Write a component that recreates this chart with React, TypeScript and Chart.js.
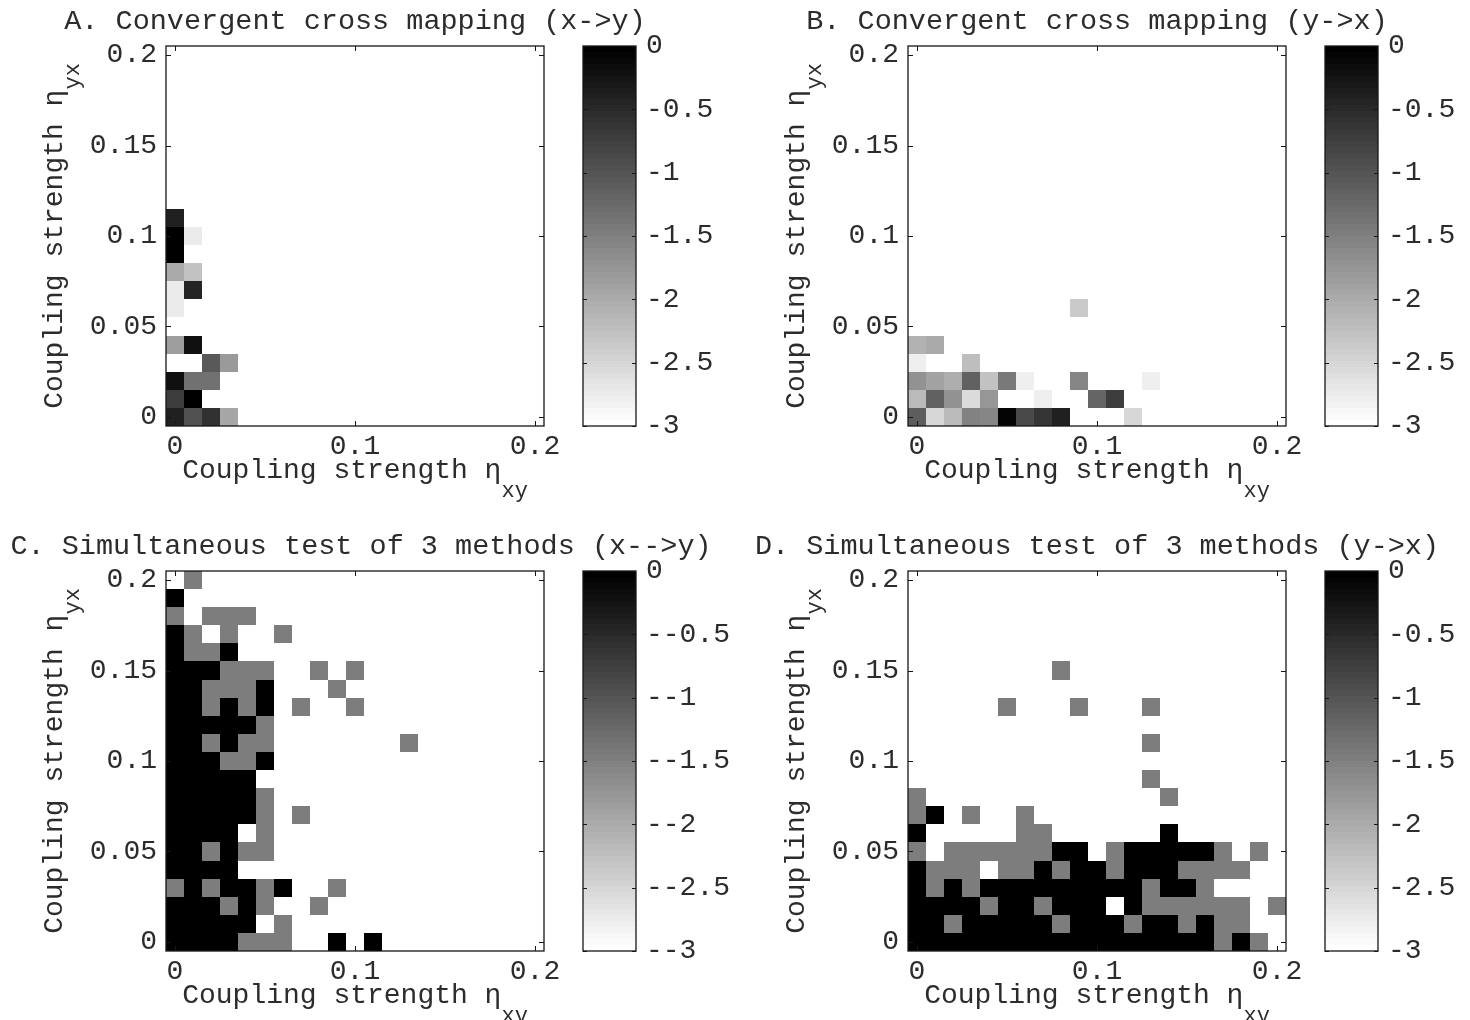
import React, { useEffect, useRef } from "react";
import { Chart, registerables } from "chart.js";

Chart.register(...registerables);

// ---------------- data ----------------
const _ = null;
const K = 0; // black cell (value 0)
const G = -1.5; // mid-gray cell

// grid centres (coupling strengths)
const etaXY = [0, 0.01, 0.02, 0.03, 0.04, 0.05, 0.06, 0.07, 0.08, 0.09, 0.1, 0.11, 0.12, 0.13, 0.14, 0.15, 0.16, 0.17, 0.18, 0.19, 0.2];
const etaYX = [0, 0.01, 0.02, 0.03, 0.04, 0.05, 0.06, 0.07, 0.08, 0.09, 0.1, 0.11, 0.12, 0.13, 0.14, 0.15, 0.16, 0.17, 0.18, 0.19, 0.2];
const cellHalf = 0.005;

const xTickValues = [0, 0.1, 0.2];
const xTickLabels = ["0", "0.1", "0.2"];
const yTickValues = [0, 0.05, 0.1, 0.15, 0.2];
const yTickLabels = ["0", "0.05", "0.1", "0.15", "0.2"];

const cbMin = -3;
const cbMax = 0;
const cbTickValues = [0, -0.5, -1, -1.5, -2, -2.5, -3];
const cbTickLabels = ["0", "-0.5", "-1", "-1.5", "-2", "-2.5", "-3"];
const cbTickLabelsC = ["0", "--0.5", "--1", "--1.5", "--2", "--2.5", "--3"];

const titles = [
  "A. Convergent cross mapping (x->y)",
  "B. Convergent cross mapping (y->x)",
  "C. Simultaneous test of 3 methods (x-->y)",
  "D. Simultaneous test of 3 methods (y->x)",
];
const xLabelMain = "Coupling strength \u03b7";
const xLabelSub = "xy";
const yLabelMain = "Coupling strength \u03b7";
const yLabelSub = "yx";

// rows from eta_yx = 0 upward, columns from eta_xy = 0 rightward
const cellsA = [
  [-0.4, -0.94, -0.6, -1.94],
  [-0.71, 0],
  [-0.2, -1.32, -1.32],
  [_, _, -1.06, -1.8],
  [-1.85, -0.2],
  [],
  [-2.76],
  [-2.76, -0.44],
  [-2.0, -2.29],
  [0],
  [0, -2.75],
  [-0.4],
];

const cellsB = [
  [-1.11, -2.53, -2.16, -1.51, -1.56, -0.06, -0.85, -0.61, -0.4, _, _, _, -2.52],
  [-2.2, -1.16, -1.69, -2.56, -1.74, _, _, -2.78, _, _, -1.21, -0.73],
  [-1.72, -1.91, -2.02, -1.16, -2.28, -1.45, -2.78, _, _, -1.59, _, _, _, -2.78],
  [-2.78, _, _, -2.21],
  [-2.09, -2.01],
  [],
  [_, _, _, _, _, _, _, _, _, -2.35],
];

const cellsC = [
  [K, K, K, K, G, G, G, _, _, K, _, K],
  [K, K, K, K, K, _, G],
  [K, K, K, G, K, G, _, _, G],
  [G, K, G, K, K, G, K, _, _, G],
  [K, K, K, K],
  [K, K, G, K, G, G],
  [K, K, K, K, _, G],
  [K, K, K, K, K, G, _, G],
  [K, K, K, K, K, G],
  [K, K, K, K, K],
  [K, K, K, G, G, K],
  [K, K, G, K, G, G, _, _, _, _, _, _, _, G],
  [K, K, K, K, K, G],
  [K, K, G, K, G, K, _, G, _, _, G],
  [K, K, G, G, G, K, _, _, _, G],
  [K, K, K, G, G, G, _, _, G, _, G],
  [K, G, G, K],
  [K, G, _, G, _, _, G],
  [G, _, G, G, G],
  [K],
  [_, G],
];

const cellsD = [
  [K, K, K, K, K, K, K, K, K, K, K, K, K, K, K, K, K, G, K, G],
  [K, K, G, K, K, K, K, K, G, K, K, K, G, K, K, G, K, G, G],
  [K, K, K, K, G, K, K, G, K, K, K, _, K, G, G, G, G, G, G, _, G],
  [K, G, K, G, K, K, K, K, K, K, K, K, K, G, K, K, G],
  [K, G, G, G, _, G, G, K, G, K, K, G, K, K, K, G, G, G, G],
  [G, _, G, G, G, G, G, G, K, K, _, G, K, K, K, K, K, G, _, G],
  [K, _, _, _, _, _, G, G, _, _, _, _, _, _, K],
  [G, K, _, G, _, _, G],
  [G, _, _, _, _, _, _, _, _, _, _, _, _, _, G],
  [_, _, _, _, _, _, _, _, _, _, _, _, _, G],
  [],
  [_, _, _, _, _, _, _, _, _, _, _, _, _, G],
  [],
  [_, _, _, _, _, G, _, _, _, G, _, _, _, G],
  [],
  [_, _, _, _, _, _, _, _, G],
];

// ---------------- helpers ----------------
const FONT = '"Liberation Mono", "DejaVu Sans Mono", monospace';
const TEXT = "#2c2c2c";
const LINE = "#161616";

function grayFor(v: number) {
  const t = (v - cbMin) / (cbMax - cbMin);
  const idx = Math.min(63, Math.max(0, Math.floor(t * 64)));
  const g = Math.round(255 * (1 - idx / 63));
  return `rgb(${g},${g},${g})`;
}

function toPoints(cells: (number | null)[][]) {
  const pts: { x: number; y: number; v: number }[] = [];
  cells.forEach((row, r) =>
    row.forEach((v, c) => {
      if (v !== null && v !== undefined) pts.push({ x: etaXY[c], y: etaYX[r], v });
    })
  );
  return pts;
}

// layout of a panel (canvas-local coordinates)
const W = 740;
const L = 166;
const T = 46;
const R = 544;
const B = 426;
const CB_OFF = 560;
const WC = 180;
const CBL = 23;
const CBR = 76;

function drawLabel(ctx: any, main: string, sub: string, size: number, subSize: number, subDrop: number) {
  ctx.font = `${size}px ${FONT}`;
  const wMain = ctx.measureText(main).width;
  ctx.font = `${subSize}px ${FONT}`;
  const wSub = ctx.measureText(sub).width;
  const total = wMain + wSub;
  ctx.textAlign = "left";
  ctx.textBaseline = "alphabetic";
  ctx.font = `${size}px ${FONT}`;
  ctx.fillText(main, -total / 2, 0);
  ctx.font = `${subSize}px ${FONT}`;
  ctx.fillText(sub, -total / 2 + wMain, subDrop);
}

const heatPlugin = {
  id: "heat",
  beforeDatasetsDraw(chart: any) {
    const { ctx } = chart;
    const xs = chart.scales.x;
    const ys = chart.scales.y;
    ctx.save();
    chart.data.datasets.forEach((ds: any) => {
      ds.data.forEach((p: any) => {
        const x0 = Math.round(xs.getPixelForValue(p.x - cellHalf));
        const x1 = Math.round(xs.getPixelForValue(p.x + cellHalf));
        const y0 = Math.round(ys.getPixelForValue(p.y - cellHalf));
        const y1 = Math.round(ys.getPixelForValue(p.y + cellHalf));
        ctx.fillStyle = grayFor(p.v);
        ctx.fillRect(x0, y1, x1 - x0, y0 - y1);
      });
    });
    ctx.restore();
  },
  afterDraw(chart: any, _args: any, opts: any) {
    const { ctx, chartArea } = chart;
    const { left, right, top, bottom } = chartArea;
    const xs = chart.scales.x;
    const ys = chart.scales.y;
    ctx.save();
    ctx.strokeStyle = LINE;
    ctx.lineWidth = 1.3;
    ctx.strokeRect(left, top, right - left, bottom - top);
    ctx.lineWidth = 1;
    ctx.beginPath();
    xs.ticks.forEach((t: any) => {
      const px = Math.round(xs.getPixelForValue(t.value)) + 0.5;
      ctx.moveTo(px, bottom);
      ctx.lineTo(px, bottom - 5);
      ctx.moveTo(px, top);
      ctx.lineTo(px, top + 5);
    });
    ys.ticks.forEach((t: any) => {
      const py = Math.round(ys.getPixelForValue(t.value)) + 0.5;
      ctx.moveTo(left, py);
      ctx.lineTo(left + 5, py);
      ctx.moveTo(right, py);
      ctx.lineTo(right - 5, py);
    });
    ctx.stroke();

    ctx.fillStyle = TEXT;
    // title
    ctx.font = `28.5px ${FONT}`;
    ctx.textAlign = "center";
    ctx.textBaseline = "alphabetic";
    ctx.fillText(opts.title, (left + right) / 2 + (opts.titleShift || 0), top - 17.5);
    // x label
    ctx.save();
    ctx.translate((left + right) / 2, bottom + 51.5);
    drawLabel(ctx, xLabelMain, xLabelSub, 28, 22, 19);
    ctx.restore();
    // y label
    ctx.save();
    ctx.translate(left - 104, (top + bottom) / 2);
    ctx.rotate(-Math.PI / 2);
    drawLabel(ctx, yLabelMain, yLabelSub, 28, 22, 17);
    ctx.restore();
    ctx.restore();
  },
};

const colorbarPlugin = {
  id: "colorbar",
  beforeDatasetsDraw(chart: any) {
    const { ctx, chartArea } = chart;
    const ys = chart.scales.y;
    const n = 64;
    ctx.save();
    for (let i = 0; i < n; i++) {
      const lo = cbMin + ((cbMax - cbMin) * i) / n;
      const hi = cbMin + ((cbMax - cbMin) * (i + 1)) / n;
      const y0 = Math.round(ys.getPixelForValue(lo));
      const y1 = Math.round(ys.getPixelForValue(hi));
      ctx.fillStyle = grayFor((lo + hi) / 2);
      ctx.fillRect(chartArea.left, y1, chartArea.right - chartArea.left, y0 - y1);
    }
    ctx.restore();
  },
  afterDraw(chart: any) {
    const { ctx, chartArea } = chart;
    const { left, right, top, bottom } = chartArea;
    const ys = chart.scales.y;
    ctx.save();
    ctx.strokeStyle = LINE;
    ctx.lineWidth = 1.3;
    ctx.strokeRect(left, top, right - left, bottom - top);
    ctx.lineWidth = 1;
    ctx.beginPath();
    ys.ticks.forEach((t: any) => {
      const py = Math.round(ys.getPixelForValue(t.value)) + 0.5;
      ctx.moveTo(left, py);
      ctx.lineTo(left + 4, py);
      ctx.moveTo(right, py);
      ctx.lineTo(right - 4, py);
    });
    ctx.stroke();
    ctx.restore();
  },
};

const tickFont = { family: FONT, size: 28, lineHeight: 1.2 };

function makeHeatConfig(cells: (number | null)[][], title: string, H: number, titleShift: number): any {
  return {
    type: "scatter",
    data: { datasets: [{ data: toPoints(cells), pointRadius: 0, pointHoverRadius: 0 }] },
    options: {
      animation: false,
      responsive: false,
      devicePixelRatio: 1,
      events: [],
      layout: { padding: { left: 0, top: T, right: W - R, bottom: 0 } },
      plugins: {
        legend: { display: false },
        tooltip: { enabled: false },
        heat: { title, titleShift },
      },
      scales: {
        x: {
          type: "linear",
          min: -0.005,
          max: 0.205,
          grid: { display: false, drawTicks: false },
          border: { display: false },
          afterBuildTicks: (s: any) => {
            s.ticks = xTickValues.map((v) => ({ value: v }));
          },
          afterFit: (s: any) => {
            s.height = H - B;
          },
          ticks: {
            autoSkip: false,
            maxRotation: 0,
            minRotation: 0,
            padding: 4,
            font: tickFont,
            color: TEXT,
            callback: (_v: any, i: number) => xTickLabels[i],
          },
        },
        y: {
          type: "linear",
          min: -0.005,
          max: 0.205,
          grid: { display: false, drawTicks: false },
          border: { display: false },
          afterBuildTicks: (s: any) => {
            s.ticks = yTickValues.map((v) => ({ value: v }));
          },
          afterFit: (s: any) => {
            s.width = L;
          },
          ticks: {
            autoSkip: false,
            padding: 9,
            font: tickFont,
            color: TEXT,
            callback: (_v: any, i: number) => yTickLabels[i],
          },
        },
      },
    },
    plugins: [heatPlugin],
  };
}

function makeCbConfig(labels: string[], H: number): any {
  return {
    type: "scatter",
    data: { datasets: [{ data: [], pointRadius: 0 }] },
    options: {
      animation: false,
      responsive: false,
      devicePixelRatio: 1,
      events: [],
      layout: { padding: { left: CBL, top: T, right: 0, bottom: H - B } },
      plugins: { legend: { display: false }, tooltip: { enabled: false } },
      scales: {
        x: { type: "linear", display: false, min: 0, max: 1 },
        y: {
          type: "linear",
          position: "right",
          min: cbMin,
          max: cbMax,
          grid: { display: false, drawTicks: false },
          border: { display: false },
          afterBuildTicks: (s: any) => {
            s.ticks = cbTickValues.map((v) => ({ value: v }));
          },
          afterFit: (s: any) => {
            s.width = WC - CBR;
          },
          ticks: {
            autoSkip: false,
            padding: 10,
            font: tickFont,
            color: TEXT,
            callback: (_v: any, i: number) => labels[i],
          },
        },
      },
    },
    plugins: [colorbarPlugin],
  };
}

const panels = [
  { cells: cellsA, title: titles[0], labels: cbTickLabels, ox: 0, oy: 0, H: 515, shift: 0 },
  { cells: cellsB, title: titles[1], labels: cbTickLabels, ox: 742, oy: 0, H: 515, shift: 0 },
  { cells: cellsC, title: titles[2], labels: cbTickLabelsC, ox: 0, oy: 525, H: 495, shift: 6 },
  { cells: cellsD, title: titles[3], labels: cbTickLabels, ox: 742, oy: 525, H: 495, shift: 0 },
];

function Panel({ p }: { p: any }) {
  const heatRef = useRef<HTMLCanvasElement | null>(null);
  const cbRef = useRef<HTMLCanvasElement | null>(null);
  useEffect(() => {
    const c1 = new Chart(heatRef.current as any, makeHeatConfig(p.cells, p.title, p.H, p.shift));
    const c2 = new Chart(cbRef.current as any, makeCbConfig(p.labels, p.H));
    return () => {
      c1.destroy();
      c2.destroy();
    };
  }, []);
  return (
    <>
      <canvas
        ref={heatRef}
        width={W}
        height={p.H}
        style={{ position: "absolute", left: p.ox, top: p.oy, width: W, height: p.H }}
      />
      <canvas
        ref={cbRef}
        width={WC}
        height={p.H}
        style={{ position: "absolute", left: p.ox + CB_OFF, top: p.oy, width: WC, height: p.H }}
      />
    </>
  );
}

export default function App() {
  return (
    <div
      style={{
        position: "absolute",
        left: 0,
        top: 0,
        width: 1470,
        height: 1020,
        background: "#ffffff",
        overflow: "hidden",
      }}
    >
      {panels.map((p, i) => (
        <Panel key={i} p={p} />
      ))}
    </div>
  );
}
